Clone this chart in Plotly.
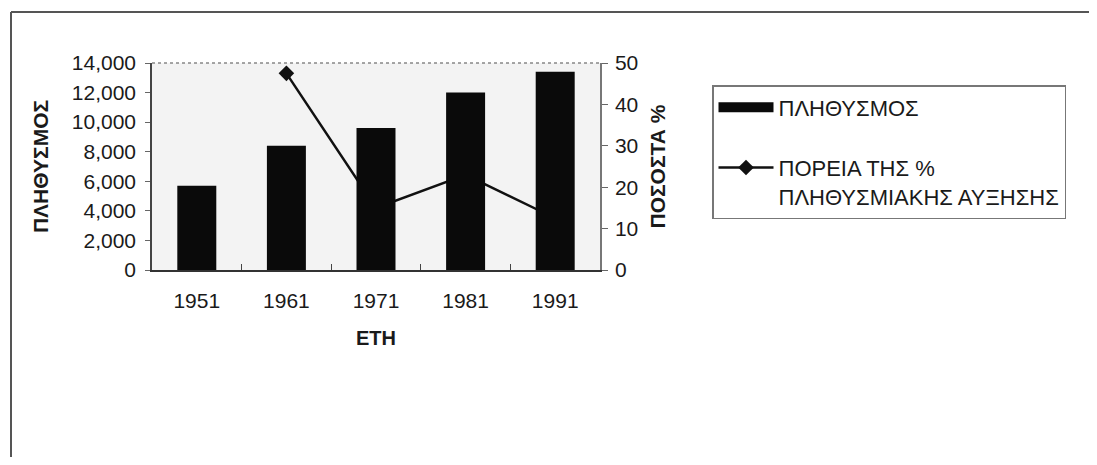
import plotly.graph_objects as go

years = ["1951", "1961", "1971", "1981", "1991"]
population = [5700, 8400, 9600, 12000, 13400]
growth_pct = [None, 47.5, 15, 23, 12.5]

pop_ticks = [0, 2000, 4000, 6000, 8000, 10000, 12000, 14000]
pct_ticks = [0, 10, 20, 30, 40, 50]

FONT = "Arial, Liberation Sans, sans-serif"
OFF = 8  # page body margin
W, H = 1097 - 2 * OFF, 465 - 2 * OFF   # fits the window without scrollbars
L, T = 152 - OFF, 63 - OFF
R, B = W - (600 - OFF), H - (270 - OFF)
pw, ph = W - L - R, H - T - B

def px(x):
    return (x - OFF - L) / pw

def py(y):
    return (H - B - (y - OFF)) / ph

fig = go.Figure()

# line on primary (right) axis so that the bars are drawn over it
fig.add_trace(go.Scatter(
    x=years, y=growth_pct, yaxis="y", name="ΠΟΡΕΙΑ ΤΗΣ %<br>ΠΛΗΘΥΣΜΙΑΚΗΣ ΑΥΞΗΣΗΣ",
    mode="lines+markers", line=dict(color="#111", width=2.5),
    marker=dict(symbol="diamond", size=12, color="#111"),
    connectgaps=False, legendrank=2,
))
fig.add_trace(go.Bar(
    x=years, y=population, yaxis="y2", name="ΠΛΗΘΥΣΜΟΣ",
    marker=dict(color="#0a0a0a", line=dict(width=0)), showlegend=False,
))
# legend proxy for the bar series (wide black block like the original)
fig.add_trace(go.Scatter(
    x=[None], y=[None], yaxis="y2", name="ΠΛΗΘΥΣΜΟΣ<br> ", mode="lines",
    line=dict(color="#0a0a0a", width=14), legendrank=1,
))

frame = dict(color="#555", width=2)
fig.update_layout(
    width=W, height=H,
    margin=dict(l=L, r=R, t=T, b=B, autoexpand=False),
    paper_bgcolor="white", plot_bgcolor="#f3f3f3",
    font=dict(family=FONT, size=21, color="#1a1a1a"),
    bargap=0.565,
    xaxis=dict(
        type="category", showline=True, linecolor="#333", linewidth=1.5,
        ticks="inside", ticklen=6, tickcolor="#444", tickson="boundaries",
        ticklabelstandoff=11, showgrid=False, zeroline=False,
        title=dict(text="<b>ΕΤΗ</b>", standoff=20, font=dict(size=20)),
    ),
    yaxis=dict(
        side="right", range=[0, 50], tickvals=pct_ticks, showgrid=False,
        zeroline=False, showline=True, linecolor="#777", linewidth=1.5,
        ticks="outside", ticklen=6, tickcolor="#666", ticklabelstandoff=3,
        title=dict(text="<b>ΠΟΣΟΣΤΑ %</b>", standoff=13, font=dict(size=21)),
    ),
    yaxis2=dict(
        side="left", overlaying="y", range=[0, 14000], tickvals=pop_ticks,
        tickformat=",", showgrid=False, zeroline=False, showline=True,
        linecolor="#444", linewidth=1.5, ticks="outside", ticklen=5,
        tickcolor="#666", ticklabelstandoff=5,
        title=dict(text="<b>ΠΛΗΘΥΣΜΟΣ</b>", standoff=17, font=dict(size=21)),
    ),
    legend=dict(
        x=px(712), y=py(85), xanchor="left", yanchor="top",
        bordercolor="#777", borderwidth=1.5, bgcolor="white",
        font=dict(size=22, color="#1a1a1a"), valign="top",
        itemwidth=55, traceorder="normal",
    ),
    shapes=[
        # dotted top border of the plot area
        dict(type="line", xref="paper", yref="paper", x0=0, x1=1, y0=1, y1=1,
             line=dict(color="#888", width=1.5, dash="dot")),
        # outer chart frame (left and top edges; the rest runs off the page)
        dict(type="line", xref="paper", yref="paper",
             x0=px(11), x1=px(11), y0=py(12), y1=py(480), line=frame),
        dict(type="line", xref="paper", yref="paper",
             x0=px(11), x1=px(1200), y0=py(12), y1=py(12), line=frame),
    ],
    showlegend=True,
)

fig.write_html("out.html")
